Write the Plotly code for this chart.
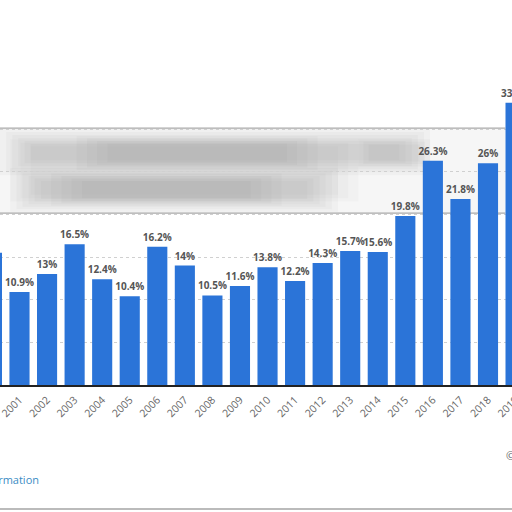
import plotly.graph_objects as go

years = list(range(2000, 2020))
values = [15.5, 10.9, 13, 16.5, 12.4, 10.4, 16.2, 14, 10.5, 11.6,
          13.8, 12.2, 14.3, 15.7, 15.6, 19.8, 26.3, 21.8, 26, 33.1]
labels = [f"{v:g}%" for v in values]
tick_vals = years
tick_text = [str(y) for y in tick_vals]
grid_vals = [5, 10, 15, 20, 25, 30]

BAR = "#2B74D8"
W = 540          # figure is wider than the 512 px window; the right part is cropped
VIS = 512 / W    # paper fraction that is visible

fig = go.Figure()
fig.add_trace(go.Bar(
    x=years, y=values, text=labels, textposition="outside",
    constraintext="none",
    marker=dict(color=BAR, line=dict(width=0)),
    textfont=dict(family="Open Sans", size=10, color="#555555", weight="bold"),
    cliponaxis=False, hoverinfo="skip",
))

shapes = []


def soft_rect(x0, x1, y0, y1, steps, dx, dy, alpha):
    """Nested translucent rectangles that imitate a blurred grey patch."""
    for i in range(steps):
        shapes.append(dict(
            type="rect", xref="paper", yref="y",
            x0=(x0 + i * dx) * VIS, x1=(x1 - i * dx) * VIS,
            y0=y0 + i * dy, y1=y1 - i * dy,
            fillcolor=f"rgba(110,110,110,{alpha})", line=dict(width=0),
            layer="below"))


# light base of the blurred overlay box
soft_rect(0.0, 0.987, 20.1, 30.1, 1, 0, 0, 0.06)
soft_rect(0.02, 0.70, 21.5, 28.8, 3, 0.02, 0.4, 0.035)
# upper blurred band
soft_rect(0.0, 0.84, 24.6, 30.0, 6, 0.012, 0.35, 0.045)
soft_rect(0.15, 0.62, 25.2, 29.2, 4, 0.02, 0.3, 0.04)
soft_rect(0.70, 0.84, 25.6, 28.8, 3, 0.01, 0.3, 0.05)
# lower blurred band
soft_rect(0.02, 0.66, 20.3, 25.4, 6, 0.012, 0.3, 0.045)
soft_rect(0.10, 0.55, 21.0, 24.8, 4, 0.02, 0.3, 0.04)

shapes += [
    dict(type="line", xref="paper", yref="y", x0=0, x1=0.987 * VIS, y0=30.1, y1=30.1,
         line=dict(color="rgba(160,160,160,0.9)", width=1.2), layer="below"),
    dict(type="line", xref="paper", yref="y", x0=0, x1=0.987 * VIS, y0=20.15, y1=20.15,
         line=dict(color="rgba(150,150,150,0.8)", width=1.2), layer="below"),
    # bottom frame line
    dict(type="line", xref="paper", yref="paper", x0=0, x1=1, y0=-0.322, y1=-0.322,
         line=dict(color="rgba(170,170,170,0.8)", width=2)),
]

annotations = [
    dict(text="Additional Information", xref="paper", yref="paper",
         x=41 / W, y=(385 - 479) / 385, xanchor="right", yanchor="middle",
         showarrow=False, font=dict(family="Open Sans", size=11, color="#3a8cc4")),
    dict(text="© Statista 2021", xref="paper", yref="paper",
         x=504 / W, y=(385 - 455) / 385, xanchor="left", yanchor="middle",
         showarrow=False, font=dict(family="Open Sans", size=11, color="#666")),
]

px_per_year = (488 - 19.5) / 17
x_lo = 2001 - 19.5 / px_per_year
x_hi = x_lo + W / px_per_year

fig.update_layout(
    width=W, height=512,
    margin=dict(l=0, r=0, t=0, b=127, pad=0, autoexpand=False),
    paper_bgcolor="white", plot_bgcolor="white",
    bargap=0.27, showlegend=False,
    shapes=shapes, annotations=annotations,
    xaxis=dict(range=[x_lo, x_hi], tickmode="array", tickvals=tick_vals,
               ticktext=tick_text, tickangle=-45, showgrid=False, automargin=False,
               ticklabeloverflow="allow", ticklabelstandoff=3,
               showline=True, linecolor="#222", linewidth=1.5, ticks="",
               tickfont=dict(family="Open Sans", size=10.5, color="#666")),
    yaxis=dict(range=[0, 45.13], tickmode="array", tickvals=grid_vals,
               showticklabels=False, showgrid=True, gridcolor="#d0d0d0",
               griddash="dot", gridwidth=1, zeroline=False, showline=False,
               automargin=False),
)

fig.write_html(
    "out.html",
    config={"displayModeBar": False},
    post_script="document.body.style.margin='0';document.body.style.overflow='hidden';"
                "document.documentElement.style.overflow='hidden';",
)
